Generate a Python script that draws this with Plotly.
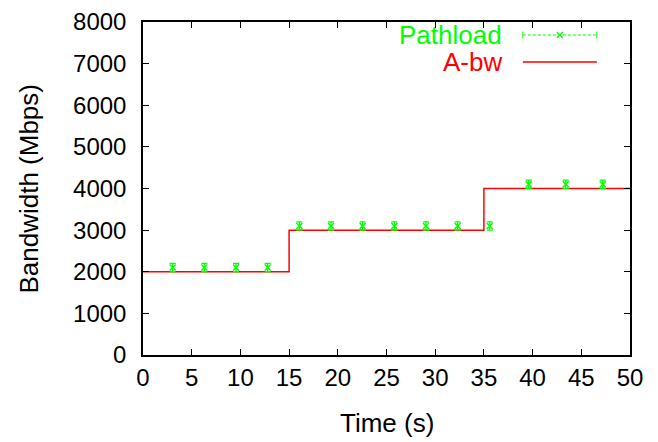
import plotly.graph_objects as go

# Pathload measurements
pathload_time = [3.05, 6.3, 9.55, 12.8, 16.05, 19.3, 22.55, 25.8, 29.05, 32.3, 35.6, 39.6, 43.4, 47.2]
pathload_bw = [2100, 2100, 2100, 2100, 3100, 3100, 3100, 3100, 3100, 3100, 3100, 4100, 4100, 4100]
pathload_err = [100] * 14

# Available bandwidth (step)
abw_time = [0, 15, 35, 50]
abw_bw = [2000, 3000, 4000, 4000]

x_ticks = [0, 5, 10, 15, 20, 25, 30, 35, 40, 45, 50]
y_ticks = [0, 1000, 2000, 3000, 4000, 5000, 6000, 7000, 8000]

GREEN = "#00ff00"
RED = "#ff0000"
FONT = "Liberation Sans, Arial, Helvetica, sans-serif"

fig = go.Figure()

fig.add_trace(go.Scatter(
    x=abw_time, y=abw_bw, mode="lines", line=dict(color=RED, width=1.5, shape="hv"),
    name="A-bw", showlegend=False))

fig.add_trace(go.Scatter(
    x=pathload_time, y=pathload_bw, mode="markers",
    marker=dict(symbol="x-thin", size=6, line=dict(color=GREEN, width=1.5), color=GREEN),
    error_y=dict(type="data", array=pathload_err, color=GREEN, thickness=1.3, width=3),
    name="Pathload", showlegend=False))

# Legend samples on an overlay axis (0..1 coordinates of the plot area)
LY1, LY2 = 0.961, 0.880
LX0, LX1 = 0.780, 0.932
fig.add_trace(go.Scatter(
    x=[LX0, LX1], y=[LY1, LY1], mode="lines",
    line=dict(color=GREEN, width=1, dash="3px,2px"),
    xaxis="x2", yaxis="y2", showlegend=False, hoverinfo="skip"))
fig.add_trace(go.Scatter(
    x=[LX0, LX1], y=[LY1, LY1], mode="markers",
    marker=dict(symbol="line-ns", size=5, line=dict(color=GREEN, width=1)),
    xaxis="x2", yaxis="y2", showlegend=False, hoverinfo="skip"))
fig.add_trace(go.Scatter(
    x=[0.856], y=[LY1], mode="markers",
    marker=dict(symbol="x-thin", size=6, line=dict(color=GREEN, width=1.3)),
    xaxis="x2", yaxis="y2", showlegend=False, hoverinfo="skip"))
fig.add_trace(go.Scatter(
    x=[LX0, LX1], y=[LY2, LY2], mode="lines",
    line=dict(color=RED, width=1.5),
    xaxis="x2", yaxis="y2", showlegend=False, hoverinfo="skip"))

fig.add_annotation(text="Pathload", x=0.741, y=LY1, xref="paper", yref="paper",
                   xanchor="right", yanchor="middle", showarrow=False,
                   font=dict(color=GREEN, size=26, family=FONT))
fig.add_annotation(text="A-bw", x=0.741, y=LY2, xref="paper", yref="paper",
                   xanchor="right", yanchor="middle", showarrow=False,
                   font=dict(color=RED, size=26, family=FONT))

# Axis titles
fig.add_annotation(text="Time (s)", x=0.5, y=-0.204, xref="paper", yref="paper",
                   xanchor="center", yanchor="middle", showarrow=False,
                   font=dict(color="black", size=26, family=FONT))
fig.add_annotation(text="Bandwidth (Mbps)", x=-0.236, y=0.5, xref="paper", yref="paper",
                   xanchor="center", yanchor="middle", showarrow=False, textangle=-90,
                   font=dict(color="black", size=26, family=FONT))

axis_common = dict(showgrid=False, zeroline=False, showline=True, linecolor="black",
                   linewidth=1.5, mirror="ticks", ticks="inside", ticklen=6,
                   tickcolor="black", tickwidth=1, automargin=False,
                   ticklabeloverflow="allow",
                   tickfont=dict(size=24, family=FONT, color="black"))

fig.update_layout(
    width=650, height=434,
    margin=dict(l=135, r=28, t=14, b=87),
    paper_bgcolor="white", plot_bgcolor="white",
    font=dict(family=FONT, color="black"),
    xaxis=dict(range=[0, 50], tickvals=x_ticks, **axis_common),
    yaxis=dict(range=[0, 8000], tickvals=y_ticks, ticklabelstandoff=10, **axis_common),
    xaxis2=dict(range=[0, 1], overlaying="x", visible=False, fixedrange=True),
    yaxis2=dict(range=[0, 1], overlaying="y", visible=False, fixedrange=True),
    showlegend=False,
)

fig.write_html("out.html")
